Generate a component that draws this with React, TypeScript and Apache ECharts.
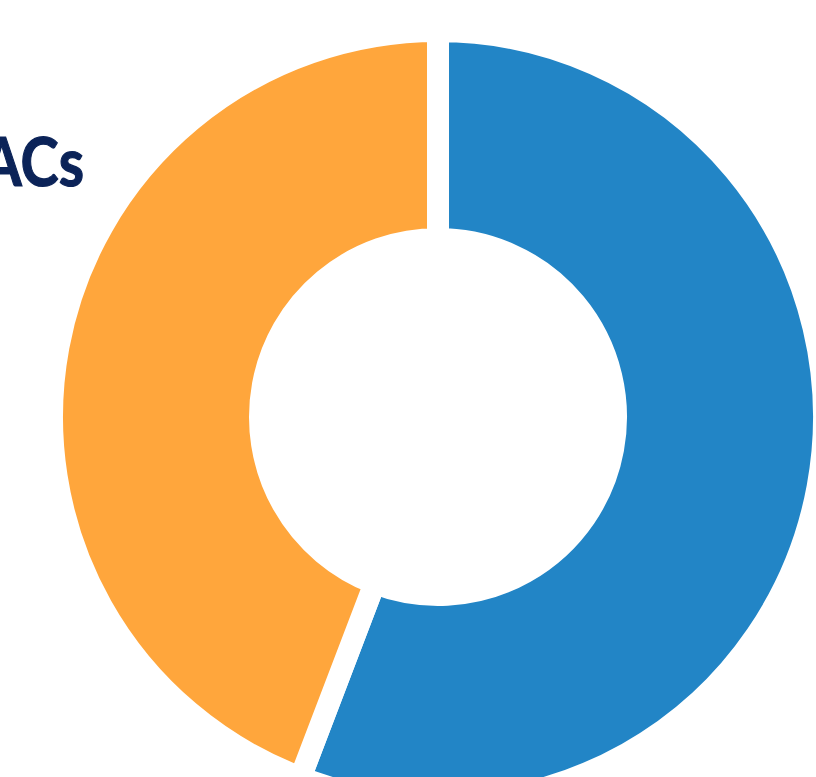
import React, { useEffect, useRef } from "react";
import * as echarts from "echarts";

const categories = ["Blue segment", "Orange segment"];
const values = [55.8, 44.2];
const colors = ["#2285C6", "#FFA63C"];
const titleText = "ACs";

export default function App() {
  const ref = useRef<HTMLDivElement>(null);
  useEffect(() => {
    if (!ref.current) return;
    const chart = echarts.init(ref.current, null, { renderer: "svg" });
    chart.setOption({
      animation: false,
      backgroundColor: "#ffffff",
      graphic: [
        {
          type: "text",
          x: 84,
          y: 160,
          scaleX: 0.86,
          style: {
            text: titleText,
            fill: "#0B2358",
            font: "bold 67px Lato",
            textAlign: "right",
            textVerticalAlign: "middle",
            stroke: "#0B2358",
            lineWidth: 1.2,
          },
        },
      ],
      series: [
        {
          type: "pie",
          center: [438, 417],
          radius: [178, 386],
          startAngle: 90,
          clockwise: true,
          label: { show: false },
          labelLine: { show: false },
          emphasis: { disabled: true },
          itemStyle: { borderColor: "#ffffff", borderWidth: 22 },
          data: categories.map((name, i) => ({
            name,
            value: values[i],
            itemStyle: { color: colors[i] },
          })),
        },
      ],
    });
    return () => chart.dispose();
  }, []);
  return (
    <div
      ref={ref}
      style={{ position: "fixed", left: 0, top: 0, width: 816, height: 777 }}
    />
  );
}
